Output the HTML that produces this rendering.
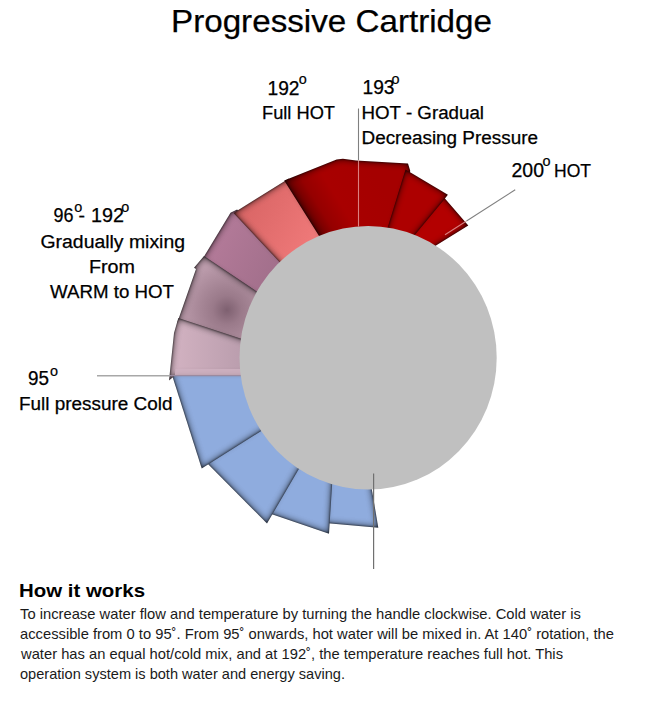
<!DOCTYPE html>
<html><head><meta charset="utf-8">
<style>
html,body{margin:0;padding:0;background:#fff;}
body{width:668px;height:702px;overflow:hidden;position:relative;font-family:"Liberation Sans",sans-serif;}
svg{position:absolute;left:0;top:0;}
</style></head>
<body>
<svg width="668" height="702" viewBox="0 0 668 702">
<defs>
  <filter id="bev" x="-20%" y="-20%" width="140%" height="140%" color-interpolation-filters="sRGB">
    <feGaussianBlur in="SourceAlpha" stdDeviation="3.6" result="b"/>
    <feComponentTransfer in="b" result="inv"><feFuncA type="linear" slope="-1.6" intercept="1.6"/></feComponentTransfer>
    <feGaussianBlur in="SourceAlpha" stdDeviation="1.1" result="b2"/>
    <feComponentTransfer in="b2" result="inv2"><feFuncA type="linear" slope="-2" intercept="2"/></feComponentTransfer>
    <feFlood flood-color="#000" flood-opacity="0.5" result="f"/>
    <feComposite in="f" in2="inv" operator="in" result="s"/>
    <feFlood flood-color="#000" flood-opacity="0.4" result="f2"/>
    <feComposite in="f2" in2="inv2" operator="in" result="s2"/>
    <feMerge result="sh"><feMergeNode in="s"/><feMergeNode in="s2"/></feMerge>
    <feComposite in="sh" in2="SourceGraphic" operator="atop"/>
  </filter>
  <radialGradient id="p2g" gradientUnits="userSpaceOnUse" cx="227" cy="310" r="48">
    <stop offset="0" stop-color="#7e6070"/>
    <stop offset="0.3" stop-color="#9a7a8a"/>
    <stop offset="1" stop-color="#bc9cac"/>
  </radialGradient>
  <linearGradient id="s1g" gradientUnits="userSpaceOnUse" x1="240" y1="200" x2="310" y2="240">
    <stop offset="0" stop-color="#d86464"/>
    <stop offset="1" stop-color="#ee7878"/>
  </linearGradient>
  <linearGradient id="r1g" gradientUnits="userSpaceOnUse" x1="284" y1="181" x2="352" y2="138.5">
    <stop offset="0" stop-color="#650000"/>
    <stop offset="0.2" stop-color="#950000"/>
    <stop offset="0.45" stop-color="#a80000"/>
    <stop offset="1" stop-color="#a50000"/>
  </linearGradient>
  <linearGradient id="p3g" gradientUnits="userSpaceOnUse" x1="205" y1="230" x2="275" y2="265">
    <stop offset="0" stop-color="#b67c9b"/>
    <stop offset="1" stop-color="#a3708c"/>
  </linearGradient>
  <linearGradient id="p1g" gradientUnits="userSpaceOnUse" x1="170" y1="0" x2="240" y2="0">
    <stop offset="0" stop-color="#d3b3c2"/>
    <stop offset="1" stop-color="#bb9eae"/>
  </linearGradient>
</defs>
<g filter="url(#bev)"><polygon fill="url(#p3g)" points="201.6,260.4 297.2,324.2 303.1,280.0 237.1,209.6 230.5,212.8"/></g>
<g filter="url(#bev)"><polygon fill="url(#s1g)" points="233.5,213.0 299.5,283.4 350.9,277.3 288.8,178.4"/></g>
<g filter="url(#bev)"><polygon fill="url(#p2g)" points="177.1,322.9 298.4,362.8 300.0,320.4 204.0,256.0 194.0,267.8 196.0,269.0"/></g>
<g filter="url(#bev)"><polygon fill="#8facde" points="324.7,523.1 378.3,527.8 365.3,450.0 329.3,449.7"/></g>
<g filter="url(#bev)"><polygon fill="#8facde" points="329.0,533.7 334.3,450.0 311.4,437.5 267.5,512.8"/></g>
<g filter="url(#bev)"><polygon fill="#8facde" points="267.0,523.6 315.7,440.0 297.3,402.3 204.7,460.7"/></g>
<g filter="url(#bev)"><polygon fill="#8facde" points="201.7,468.5 300.0,406.5 300.0,371.0 170.7,371.0"/></g>
<g filter="url(#bev)"><polygon fill="url(#p1g)" points="169.0,380.6 175.0,375.5 300.0,375.5 300.0,358.0 178.3,318.0 174.0,333.0"/></g>
<g filter="url(#bev)"><polygon fill="url(#r1g)" points="284.2,180.4 336.6,159.4 342.9,158.8 356.0,160.5 408.0,163.6 410.3,171.0 376.3,281.5 346.7,280.0"/></g>
<g filter="url(#bev)"><polygon fill="#b30000" points="441.7,194.7 468.3,225.5 436.0,245.5 390.0,274.0 376.1,273.8"/></g>
<g filter="url(#bev)"><polygon fill="#ad0000" points="405.5,169.5 447.9,194.7 445.0,198.5 380.0,277.0 371.5,280.0"/></g>
<polygon points="175.5,369 245,369 245,375 174.8,375" fill="#cfb2c1" opacity="0.85"/>
<line x1="97" y1="375.8" x2="170" y2="375.8" stroke="#a8a8a8" stroke-width="1.4"/>
<line x1="170" y1="375.6" x2="245" y2="375.6" stroke="#9a8aa0" stroke-width="1.1"/>
<ellipse cx="368.1" cy="357.8" rx="128.6" ry="131.8" fill="#c0c0c0"/>
<line x1="358.5" y1="108.5" x2="358.5" y2="160" stroke="#808080" stroke-width="1.1"/>
<line x1="358.5" y1="160" x2="358.5" y2="226.5" stroke="#e8a0a0" stroke-opacity="0.8" stroke-width="1.1"/>
<line x1="373.6" y1="473.5" x2="373.6" y2="569" stroke="#707070" stroke-width="1.2"/>
<line x1="466.5" y1="221" x2="515.2" y2="189.8" stroke="#808080" stroke-width="1.1"/>
<line x1="445" y1="234.7" x2="466.5" y2="221" stroke="#e8a0a0" stroke-opacity="0.8" stroke-width="1.1"/>
<g font-family="Liberation Sans" fill="#000">
<text stroke="#000" stroke-width="0.25" x="171.0" y="32" font-size="32" textLength="321.0" lengthAdjust="spacingAndGlyphs">Progressive Cartridge</text>
<text stroke="#000" stroke-width="0.25" x="267.5" y="94.8" font-size="19.5" textLength="32.0" lengthAdjust="spacingAndGlyphs">192</text>
<text stroke="#000" stroke-width="0.2" x="298.8" y="84.4" font-size="14.4">o</text>
<text stroke="#000" stroke-width="0.25" x="262.0" y="119.4" font-size="18" textLength="73.0" lengthAdjust="spacingAndGlyphs">Full HOT</text>
<text stroke="#000" stroke-width="0.25" x="362.5" y="94" font-size="19.5" textLength="32.0" lengthAdjust="spacingAndGlyphs">193</text>
<text stroke="#000" stroke-width="0.2" x="391.6" y="83.5" font-size="14.4">o</text>
<text stroke="#000" stroke-width="0.25" x="361.5" y="118.9" font-size="18" textLength="122.5" lengthAdjust="spacingAndGlyphs">HOT - Gradual</text>
<text stroke="#000" stroke-width="0.25" x="361.5" y="144.3" font-size="18" textLength="176.5" lengthAdjust="spacingAndGlyphs">Decreasing Pressure</text>
<text stroke="#000" stroke-width="0.25" x="511.5" y="176.7" font-size="19.5" textLength="32.5" lengthAdjust="spacingAndGlyphs">200</text>
<text stroke="#000" stroke-width="0.2" x="542.6" y="165.8" font-size="14.4">o</text>
<text stroke="#000" stroke-width="0.25" x="554.0" y="176.6" font-size="18" textLength="37.0" lengthAdjust="spacingAndGlyphs">HOT</text>
<text stroke="#000" stroke-width="0.25" x="53.5" y="221.9" font-size="19.5" textLength="20.0" lengthAdjust="spacingAndGlyphs">96</text>
<text stroke="#000" stroke-width="0.2" x="74.2" y="212" font-size="14.4">o</text>
<text stroke="#000" stroke-width="0.25" x="78.5" y="221.9" font-size="18" textLength="6.5" lengthAdjust="spacingAndGlyphs">-</text>
<text stroke="#000" stroke-width="0.25" x="91.0" y="221.9" font-size="19.5" textLength="33.0" lengthAdjust="spacingAndGlyphs">192</text>
<text stroke="#000" stroke-width="0.2" x="121.3" y="212" font-size="14.4">o</text>
<text stroke="#000" stroke-width="0.25" x="40.5" y="247.7" font-size="18" textLength="144.5" lengthAdjust="spacingAndGlyphs">Gradually mixing</text>
<text stroke="#000" stroke-width="0.25" x="89.0" y="272.6" font-size="18" textLength="46.0" lengthAdjust="spacingAndGlyphs">From</text>
<text stroke="#000" stroke-width="0.25" x="50.0" y="297.6" font-size="18" textLength="124.0" lengthAdjust="spacingAndGlyphs">WARM to HOT</text>
<text stroke="#000" stroke-width="0.25" x="28.0" y="384.8" font-size="19.5" textLength="21.0" lengthAdjust="spacingAndGlyphs">95</text>
<text stroke="#000" stroke-width="0.2" x="50.1" y="375.5" font-size="14.4">o</text>
<text stroke="#000" stroke-width="0.25" x="19.0" y="409.6" font-size="18" textLength="153.5" lengthAdjust="spacingAndGlyphs">Full pressure Cold</text>
<text x="19.0" y="597.3" font-size="18.6" textLength="126.0" lengthAdjust="spacingAndGlyphs" font-weight="bold">How it works</text>
<text fill="#1a1a1a" x="20.0" y="618.8" font-size="14.3" textLength="561.0" lengthAdjust="spacingAndGlyphs">To increase water flow and temperature by turning the handle clockwise. Cold water is</text>
<text fill="#1a1a1a" x="20.0" y="638.7" font-size="14.3" textLength="594.0" lengthAdjust="spacingAndGlyphs">accessible from 0 to 95˚. From 95˚ onwards, hot water will be mixed in. At 140˚ rotation, the</text>
<text fill="#1a1a1a" x="21.0" y="658.8" font-size="14.3" textLength="542.0" lengthAdjust="spacingAndGlyphs">water has an equal hot/cold mix, and at 192˚, the temperature reaches full hot. This</text>
<text fill="#1a1a1a" x="20.0" y="678.6" font-size="14.3" textLength="325.0" lengthAdjust="spacingAndGlyphs">operation system is both water and energy saving.</text>
</g>
</svg>
</body></html>
